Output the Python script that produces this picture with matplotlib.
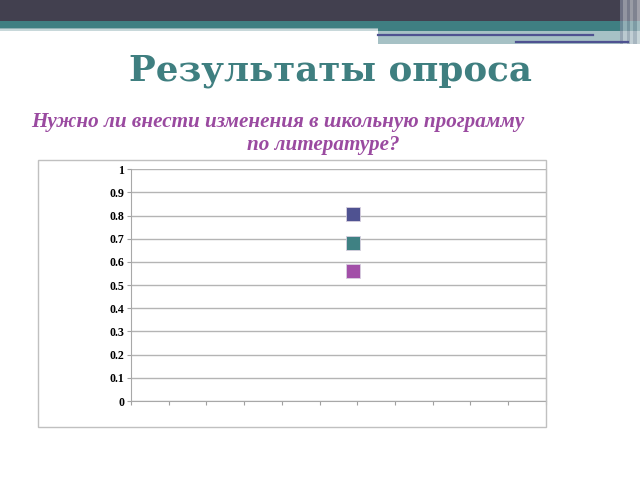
import matplotlib.pyplot as plt
from matplotlib.patches import Rectangle
from matplotlib.lines import Line2D

# survey results: one category position, three answers
category_pos = 5.9
answer_values = [0.805, 0.68, 0.56]
answer_colors = ["#4f5291", "#3f8183", "#a24fa8"]
y_ticks = [0, 0.1, 0.2, 0.3, 0.4, 0.5, 0.6, 0.7, 0.8, 0.9, 1]
y_tick_labels = ["0", "0.1", "0.2", "0.3", "0.4", "0.5", "0.6", "0.7", "0.8", "0.9", "1"]

W, H = 640, 480
fig = plt.figure(figsize=(6.4, 4.8), dpi=100)
fig.patch.set_facecolor("white")


def px(x, y):
    return x / W, 1 - y / H


def rect(x0, y0, x1, y1, color, **kw):
    fig.add_artist(Rectangle(px(x0, y1), (x1 - x0) / W, (y1 - y0) / H,
                             transform=fig.transFigure, facecolor=color,
                             edgecolor="none", **kw))


# slide header decoration
rect(0, 0, 640, 21, "#42404f")
rect(0, 21, 640, 27.5, "#3f7f82")
rect(0, 27.5, 378, 29.5, "#8fb0b3")
rect(0, 29.5, 378, 31, "#c8d8da")
rect(378, 27.5, 640, 31.5, "#3f7f82")
rect(378, 31.5, 640, 43.5, "#a6c1c5")
for i, c in enumerate(["#8a93a8", "#c9cfd8", "#9ba3b4", "#d5dae0", "#a9b0bd", "#e0e3e8"]):
    rect(620 + i * 3.3, 0, 620 + (i + 1) * 3.3, 44, c, alpha=0.6)
fig.add_artist(Line2D([378 / W, 593 / W], [1 - 35.3 / H] * 2, transform=fig.transFigure,
                      color="#4f5291", lw=1.6))
fig.add_artist(Line2D([516 / W, 628 / W], [1 - 42.3 / H] * 2, transform=fig.transFigure,
                      color="#4f5291", lw=1.6))

# titles
fig.text(*px(330.5, 81), "Результаты опроса", ha="center", va="baseline",
         fontsize=25.7, fontweight="bold", family="DejaVu Serif", color="#3f7f80")
fig.text(*px(31, 127.3), "Нужно ли внести изменения в школьную программу",
         ha="left", va="baseline", fontsize=15.2, fontweight="bold", style="italic",
         family="Liberation Serif", color="#9a4aa0")
fig.text(*px(323.5, 150), "по литературе?", ha="center", va="baseline",
         fontsize=15.2, fontweight="bold", style="italic",
         family="Liberation Serif", color="#9a4aa0")

# chart frame
fig.add_artist(Rectangle(px(37.5, 426.7), (545.7 - 37.5) / W, (426.7 - 159.5) / H,
                         transform=fig.transFigure, facecolor="none",
                         edgecolor="#c0c0c0", lw=1))

l, t, r, b = 131, 169.3, 545.7, 401
ax = fig.add_axes([l / W, 1 - b / H, (r - l) / W, (b - t) / H])
for v, c in zip(answer_values, answer_colors):
    ax.plot([category_pos], [v], marker="s", linestyle="none", markersize=9.5,
            color=c, markeredgecolor="#d8d0e0", markeredgewidth=0.6, zorder=3)

ax.set_xlim(0, 11)
ax.set_ylim(0, 1)
ax.set_xticks(range(12))
ax.set_xticklabels([])
ax.set_yticks(y_ticks)
ax.set_yticklabels(y_tick_labels, fontsize=8.6, fontweight="bold", family="Liberation Serif")
ax.grid(axis="y", color="#b4b4b4", lw=1)
ax.set_axisbelow(True)
ax.tick_params(axis="both", direction="out", length=3, color="#a0a0a0", pad=2)
for side in ["top"]:
    ax.spines[side].set_visible(False)
for side in ["left", "bottom", "right"]:
    ax.spines[side].set_color("#a8a8a8")

fig.savefig("out.png", dpi=100)
